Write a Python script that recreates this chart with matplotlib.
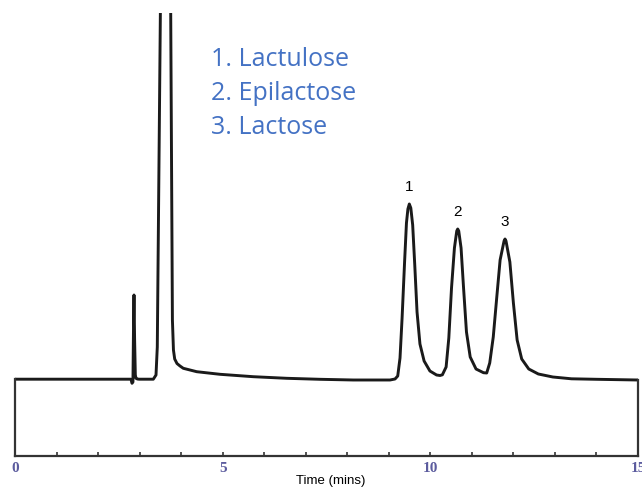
import matplotlib
matplotlib.use("Agg")
import matplotlib.pyplot as plt

# chromatogram trace: time (min) and detector signal (arb. units)
time_min = [
    0.000, 2.528, 2.793, 2.817, 2.840, 2.855, 2.865, 2.880, 2.897, 2.913,
    2.945, 2.986, 3.330, 3.395, 3.426, 3.500, 3.560, 3.624, 3.690, 3.749,
    3.790, 3.815, 3.845, 3.900, 3.973, 4.052, 4.375, 4.936, 5.738, 6.542,
    7.343, 8.145, 9.029, 9.150, 9.215, 9.270, 9.320, 9.380, 9.425, 9.460,
    9.494, 9.530, 9.575, 9.625, 9.680, 9.750, 9.850, 9.990, 10.150, 10.233,
    10.290, 10.380, 10.445, 10.510, 10.580, 10.636, 10.659, 10.684, 10.740, 10.800,
    10.870, 10.960, 11.100, 11.280, 11.357, 11.430, 11.515, 11.600, 11.680, 11.775,
    11.798, 11.822, 11.915, 12.000, 12.090, 12.200, 12.370, 12.600, 12.950, 13.400,
    14.006, 15.000,
]
signal = [
    0.8, 0.8, 0.8, -3.3, -2.0, 60.0, 85.0, 40.0, 5.0, 1.7,
    1.0, 0.8, 0.8, 5.0, 33.0, 367.0, 800.0, 950.0, 800.0, 367.0,
    60.0, 30.0, 21.0, 16.5, 14.0, 11.7, 8.3, 5.7, 3.3, 1.7,
    0.7, 0.0, 0.0, 1.0, 4.0, 22.0, 62.0, 118.0, 157.0, 171.0,
    176.0, 172.0, 155.0, 115.0, 68.0, 36.0, 19.0, 9.0, 5.0, 4.5,
    5.2, 13.0, 42.0, 92.0, 132.0, 149.0, 151.0, 149.0, 132.0, 92.0,
    48.0, 23.0, 11.0, 7.3, 7.0, 17.0, 43.0, 83.0, 120.0, 139.0,
    141.0, 139.0, 118.0, 77.0, 40.0, 21.0, 11.0, 6.0, 3.0, 1.2,
    0.7, 0.0,
]

peak_times = [9.494, 10.659, 11.798]
peak_heights = [176.0, 151.0, 141.0]
peak_labels = ["1", "2", "3"]
compound_names = ["1. Lactulose", "2. Epilactose", "3. Lactose"]
x_ticks = [0, 5, 10, 15]

fig = plt.figure(figsize=(6.42, 4.90), dpi=100)
ax = fig.add_axes([15 / 642, 34 / 490, 623 / 642, 443 / 490])

ax.plot(time_min, signal, color="#1a1a1a", linewidth=2.1,
        solid_joinstyle="round", solid_capstyle="round")

ax.set_xlim(0, 15)
ax.set_ylim(-76, 367)

# box only below the trace
ax.spines["top"].set_visible(False)
for side in ["left", "right", "bottom"]:
    ax.spines[side].set_color("#333333")
    ax.spines[side].set_linewidth(1.6)
ax.spines["left"].set_bounds(-76, signal[0])
ax.spines["right"].set_bounds(-76, signal[-1])

ax.set_yticks([])
ax.set_xticks(range(0, 16))
ax.set_xticklabels([str(t) if t in x_ticks else "" for t in range(0, 16)],
                   fontfamily="Liberation Serif", fontweight="bold",
                   fontsize=11, color="#5c5c9e")
ax.tick_params(axis="x", direction="in", length=3, width=1.2,
               color="#333333", pad=4)

ax.set_xlabel("Time (mins)", fontfamily="Liberation Sans", fontsize=9.5)
ax.xaxis.set_label_coords(0.507, -0.043)

for t, h, lab in zip(peak_times, peak_heights, peak_labels):
    ax.annotate(lab, (t, h), xytext=(0, 12), textcoords="offset points",
                ha="center", va="center", fontfamily="Liberation Sans",
                fontsize=11, color="black")

for i, name in enumerate(compound_names):
    fig.text(211 / 642, 1 - (59 + 34 * i) / 490, name, ha="left", va="center",
             fontfamily="Open Sans", fontsize=18, color="#4472c4")

fig.savefig("out.png", dpi=100)
